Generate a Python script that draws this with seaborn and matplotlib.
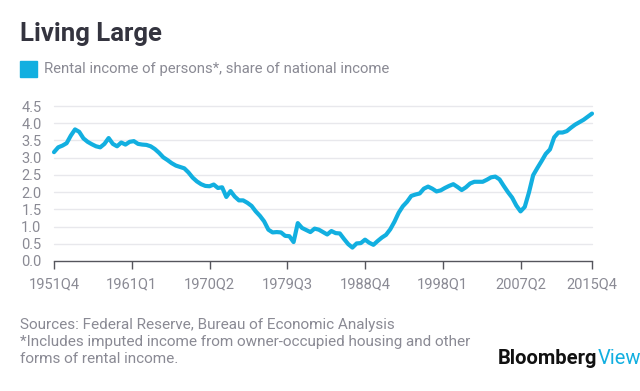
import matplotlib
matplotlib.use("Agg")
import matplotlib.pyplot as plt
import matplotlib.patches as mpatches
import numpy as np
import pandas as pd
import seaborn as sns

# Semiannual readings (every 2 quarters) from 1951Q4 to 2015Q4
start_year, start_q = 1951, 4
step_quarters = 2
share = [
    3.16, 3.30, 3.35, 3.42, 3.64, 3.82, 3.75, 3.56, 3.46, 3.39,
    3.33, 3.30, 3.40, 3.57, 3.40, 3.33, 3.44, 3.38, 3.46, 3.48,
    3.40, 3.38, 3.37, 3.33, 3.25, 3.14, 3.01, 2.93, 2.84, 2.77,
    2.73, 2.69, 2.57, 2.42, 2.31, 2.23, 2.18, 2.17, 2.22, 2.12,
    2.14, 1.86, 2.03, 1.87, 1.76, 1.76, 1.69, 1.60, 1.44, 1.31,
    1.15, 0.91, 0.83, 0.84, 0.83, 0.73, 0.72, 0.55, 1.10, 0.96,
    0.90, 0.84, 0.94, 0.91, 0.84, 0.77, 0.87, 0.81, 0.80, 0.64,
    0.49, 0.39, 0.51, 0.52, 0.62, 0.53, 0.47, 0.58, 0.68, 0.76,
    0.92, 1.14, 1.40, 1.59, 1.72, 1.89, 1.93, 1.96, 2.10, 2.16,
    2.10, 2.02, 2.05, 2.12, 2.18, 2.23, 2.15, 2.06, 2.14, 2.25,
    2.30, 2.30, 2.30, 2.36, 2.43, 2.45, 2.37, 2.18, 2.00, 1.84,
    1.61, 1.44, 1.57, 1.99, 2.49, 2.70, 2.90, 3.11, 3.24, 3.59,
    3.73, 3.73, 3.77, 3.87, 3.96, 4.03, 4.10, 4.19, 4.28,
]
tick_labels = ["1951Q4", "1961Q1", "1970Q2", "1979Q3", "1988Q4", "1998Q1", "2007Q2", "2015Q4"]
y_ticks = [0.0, 0.5, 1.0, 1.5, 2.0, 2.5, 3.0, 3.5, 4.0, 4.5]

LINE_COLOR = "#12afe0"
GRAY = "#8a8a94"


def label_to_index(label):
    # quarters elapsed since the first period
    year, q = int(label[:4]), int(label[-1])
    return (year - start_year) * 4 + (q - start_q)


df = pd.DataFrame({
    "quarter_idx": np.arange(len(share)) * step_quarters,
    "share": share,
})

sns.set_theme(style="white")
plt.rcParams["font.family"] = ["Roboto", "DejaVu Sans"]

fig = plt.figure(figsize=(6.4, 3.91), dpi=100)
ax = fig.add_axes([54 / 640, (391 - 261) / 391, (592 - 54) / 640, (261 - 106) / 391])

sns.lineplot(data=df, x="quarter_idx", y="share", ax=ax, color=LINE_COLOR, linewidth=3.0,
             solid_joinstyle="round", solid_capstyle="round", clip_on=False, zorder=3)

ax.set_xlim(0, label_to_index("2015Q4"))
ax.set_ylim(0, 4.5)
ax.set_xticks([label_to_index(t) for t in tick_labels])
ax.set_xticklabels(tick_labels)
ax.set_yticks(y_ticks)
ax.set_yticklabels([f"{v:.1f}" for v in y_ticks])
ax.set_xlabel("")
ax.set_ylabel("")

for v in y_ticks[1:]:
    ax.axhline(v, color="#e8e8ec", linewidth=1.0, zorder=1, clip_on=False)

for side in ["top", "right", "left"]:
    ax.spines[side].set_visible(False)
ax.spines["bottom"].set_color("#55555c")
ax.spines["bottom"].set_linewidth(1.0)
ax.spines["bottom"].set_zorder(4)

ax.tick_params(axis="x", direction="out", length=6, width=1.0, color="#55555c",
               labelsize=10.5, labelcolor=GRAY, pad=6, bottom=True)
ax.tick_params(axis="y", length=0, labelsize=10.5, labelcolor=GRAY, pad=9)

# header
fig.text(20 / 640, 1 - 34 / 391, "Living Large", fontsize=18.5, fontweight="bold",
         color="#34343f", va="center", ha="left")
fig.patches.append(mpatches.Rectangle((20 / 640, 1 - 77 / 391), 17 / 640, 16 / 391,
                                      transform=fig.transFigure, color=LINE_COLOR))
fig.text(44 / 640, 1 - 69 / 391, "Rental income of persons*, share of national income",
         fontsize=10.7, color=GRAY, va="center", ha="left")

# footer
footer = [
    "Sources: Federal Reserve, Bureau of Economic Analysis",
    "*Includes imputed income from owner-occupied housing and other",
    "forms of rental income.",
]
for i, line in enumerate(footer):
    fig.text(20 / 640, 1 - (325 + 17 * i) / 391, line, fontsize=11, color=GRAY,
             va="center", ha="left")

brand = fig.text(498 / 640, 1 - 359 / 391, "Bloomberg", fontsize=14.5, fontweight="bold",
                 color="#111111", va="center", ha="left")
fig.canvas.draw()
bb = brand.get_window_extent().transformed(fig.transFigure.inverted())
fig.text(bb.x1, 1 - 359 / 391, "View", fontsize=14.5, color=LINE_COLOR, va="center", ha="left")

fig.savefig("out.png", dpi=100, facecolor="white")
